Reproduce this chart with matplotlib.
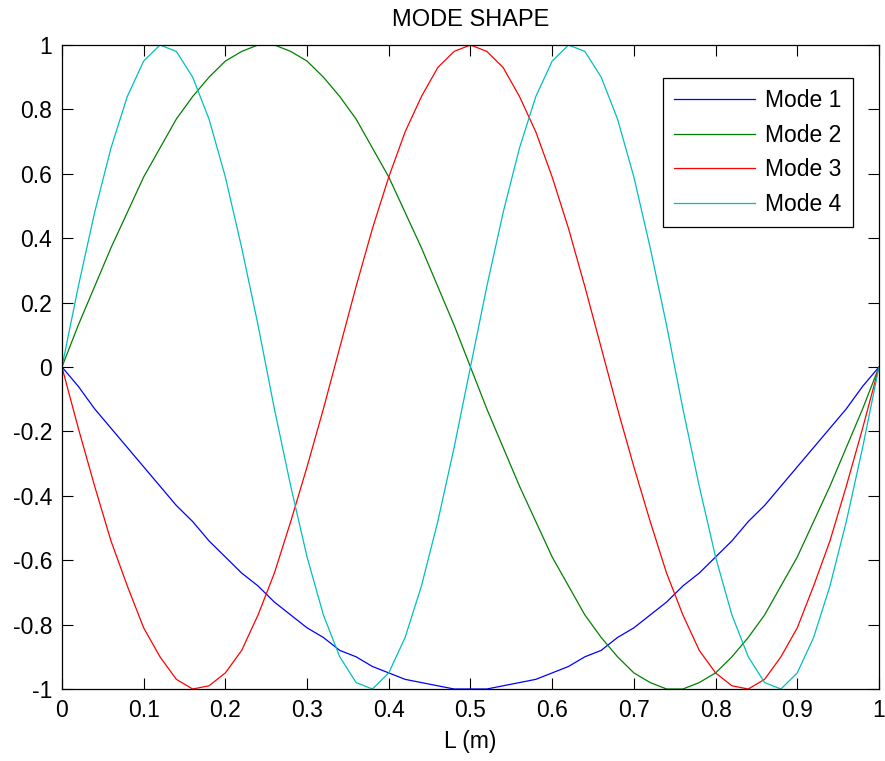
import matplotlib
matplotlib.use("Agg")
import matplotlib.pyplot as plt
import numpy as np

plt.rcParams['font.family'] = ['Liberation Sans', 'DejaVu Sans']
plt.rcParams['axes.unicode_minus'] = False

# positions along the beam (m)
L = np.linspace(0, 1, 51)

# mode shape values
mode1 = [0, -0.06, -0.13, -0.19, -0.25, -0.31, -0.37, -0.43, -0.48, -0.54, -0.59,
         -0.64, -0.68, -0.73, -0.77, -0.81, -0.84, -0.88, -0.90, -0.93, -0.95,
         -0.97, -0.98, -0.99, -1.00, -1.00, -1.00, -0.99, -0.98, -0.97, -0.95,
         -0.93, -0.90, -0.88, -0.84, -0.81, -0.77, -0.73, -0.68, -0.64, -0.59,
         -0.54, -0.48, -0.43, -0.37, -0.31, -0.25, -0.19, -0.13, -0.06, 0]
mode2 = [0, 0.13, 0.25, 0.37, 0.48, 0.59, 0.68, 0.77, 0.84, 0.90, 0.95,
         0.98, 1.00, 1.00, 0.98, 0.95, 0.90, 0.84, 0.77, 0.68, 0.59,
         0.48, 0.37, 0.25, 0.13, 0, -0.13, -0.25, -0.37, -0.48, -0.59,
         -0.68, -0.77, -0.84, -0.90, -0.95, -0.98, -1.00, -1.00, -0.98, -0.95,
         -0.90, -0.84, -0.77, -0.68, -0.59, -0.48, -0.37, -0.25, -0.13, 0]
mode3 = [0, -0.19, -0.37, -0.54, -0.68, -0.81, -0.90, -0.97, -1.00, -0.99, -0.95,
         -0.88, -0.77, -0.64, -0.48, -0.31, -0.13, 0.06, 0.25, 0.43, 0.59,
         0.73, 0.84, 0.93, 0.98, 1.00, 0.98, 0.93, 0.84, 0.73, 0.59,
         0.43, 0.25, 0.06, -0.13, -0.31, -0.48, -0.64, -0.77, -0.88, -0.95,
         -0.99, -1.00, -0.97, -0.90, -0.81, -0.68, -0.54, -0.37, -0.19, 0]
mode4 = [0, 0.25, 0.48, 0.68, 0.84, 0.95, 1.00, 0.98, 0.90, 0.77, 0.59,
         0.37, 0.13, -0.13, -0.37, -0.59, -0.77, -0.90, -0.98, -1.00, -0.95,
         -0.84, -0.68, -0.48, -0.25, 0, 0.25, 0.48, 0.68, 0.84, 0.95,
         1.00, 0.98, 0.90, 0.77, 0.59, 0.37, 0.13, -0.13, -0.37, -0.59,
         -0.77, -0.90, -0.98, -1.00, -0.95, -0.84, -0.68, -0.48, -0.25, 0]

labels = ['Mode 1', 'Mode 2', 'Mode 3', 'Mode 4']
colors = ['#0000ff', '#008000', '#ff0000', '#00bfbf']

xticks = [0, 0.1, 0.2, 0.3, 0.4, 0.5, 0.6, 0.7, 0.8, 0.9, 1]
xticklabels = ['0', '0.1', '0.2', '0.3', '0.4', '0.5', '0.6', '0.7', '0.8', '0.9', '1']
yticks = [-1, -0.8, -0.6, -0.4, -0.2, 0, 0.2, 0.4, 0.6, 0.8, 1]
yticklabels = ['-1', '-0.8', '-0.6', '-0.4', '-0.2', '0', '0.2', '0.4', '0.6', '0.8', '1']

fig = plt.figure(figsize=(8.85, 7.61), dpi=100)
ax = fig.add_axes([0.070, 0.0946, 0.9232, 0.8463])

for y, lab, c in zip([mode1, mode2, mode3, mode4], labels, colors):
    ax.plot(L, y, color=c, lw=0.9, label=lab)

ax.set_xlim(0, 1)
ax.set_ylim(-1, 1)
ax.set_xticks(xticks)
ax.set_xticklabels(xticklabels)
ax.set_yticks(yticks)
ax.set_yticklabels(yticklabels)
ax.tick_params(direction='in', top=True, right=True, length=8, width=0.8,
               labelsize=16.5, pad=7)
for s in ax.spines.values():
    s.set_linewidth(0.9)

ax.set_title('MODE SHAPE', fontsize=17, pad=14)
ax.set_xlabel('L (m)', fontsize=16.5, labelpad=6)

leg = ax.legend(loc='upper right', bbox_to_anchor=(0.968, 0.9488), borderaxespad=0,
                fontsize=16.5, fancybox=False, edgecolor='black', framealpha=1,
                handlelength=3.5, handletextpad=0.45, labelspacing=0.5,
                borderpad=0.5)
leg.get_frame().set_linewidth(0.9)

fig.savefig('out.png', dpi=100)
